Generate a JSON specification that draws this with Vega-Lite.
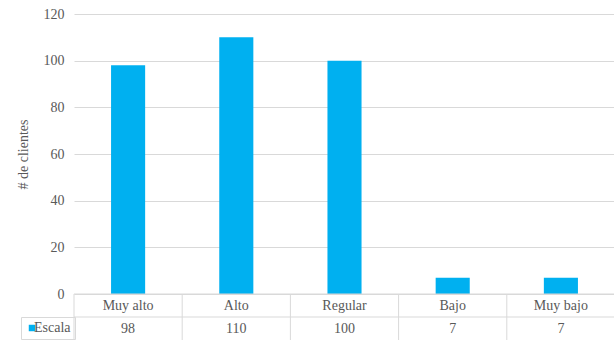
{
  "$schema": "https://vega.github.io/schema/vega-lite/v6.json",
  "padding": {"left": 16, "top": 7, "right": 0, "bottom": 0},
  "background": "white",
  "spacing": 0,
  "bounds": "flush",
  "config": {
    "font": "Liberation Serif",
    "view": {"stroke": null},
    "axis": {"labelFont": "Liberation Serif", "titleFont": "Liberation Serif"},
    "legend": {"labelFont": "Liberation Serif"},
    "text": {"font": "Liberation Serif"}
  },
  "data": {
    "values": [
      {"categoria": "Muy alto", "Escala": 98},
      {"categoria": "Alto", "Escala": 110},
      {"categoria": "Regular", "Escala": 100},
      {"categoria": "Bajo", "Escala": 7},
      {"categoria": "Muy bajo", "Escala": 7}
    ]
  },
  "vconcat": [
    {
      "width": 541,
      "height": 280,
      "mark": {"type": "bar", "color": "#00B0F0"},
      "encoding": {
        "x": {
          "field": "categoria",
          "type": "nominal",
          "sort": null,
          "scale": {"paddingInner": 0.685, "paddingOuter": 0.3425},
          "axis": null
        },
        "y": {
          "field": "Escala",
          "type": "quantitative",
          "scale": {"domain": [0, 120], "nice": false},
          "axis": {
            "values": [0, 20, 40, 60, 80, 100, 120],
            "title": "# de clientes",
            "titleFontSize": 14,
            "titleFontWeight": "normal",
            "titleColor": "#595959",
            "titlePadding": 13,
            "labelFontSize": 14,
            "labelColor": "#595959",
            "labelPadding": 10,
            "ticks": false,
            "domain": false,
            "grid": true,
            "gridColor": "#d9d9d9",
            "gridWidth": 1
          }
        },
        "color": {
          "datum": "Escala",
          "type": "nominal",
          "scale": {"range": ["#00B0F0"]},
          "legend": {
            "orient": "none",
            "legendX": -53,
            "legendY": 303,
            "title": null,
            "symbolType": "square",
            "symbolSize": 42,
            "symbolStrokeWidth": 0,
            "labelFontSize": 14,
            "labelColor": "#595959",
            "labelOffset": -5,
            "padding": 4,
            "strokeColor": "#d9d9d9"
          }
        }
      }
    },
    {
      "width": 541,
      "height": 46,
      "layer": [
        {
          "mark": {"type": "text", "fontSize": 14, "color": "#595959"},
          "encoding": {
            "x": {
              "field": "categoria",
              "type": "nominal",
              "sort": null,
              "scale": {"paddingInner": 0, "paddingOuter": 0},
              "axis": null
            },
            "y": {
              "datum": "categoria",
              "type": "nominal",
              "scale": {"domain": ["categoria", "Escala"], "paddingInner": 0, "paddingOuter": 0},
              "axis": null
            },
            "text": {"field": "categoria", "type": "nominal"}
          }
        },
        {
          "mark": {"type": "text", "fontSize": 14, "color": "#595959"},
          "encoding": {
            "x": {"field": "categoria", "type": "nominal", "sort": null},
            "y": {"datum": "Escala", "type": "nominal"},
            "text": {"field": "Escala", "type": "nominal"}
          }
        },
        {
          "mark": {"type": "rule", "color": "#d9d9d9", "strokeWidth": 1},
          "encoding": {
            "x": {"field": "categoria", "type": "nominal", "sort": null, "bandPosition": 0}
          }
        },
        {
          "transform": [{"filter": "datum.categoria == 'Muy bajo'"}],
          "mark": {"type": "rule", "color": "#d9d9d9", "strokeWidth": 1},
          "encoding": {
            "x": {"field": "categoria", "type": "nominal", "sort": null, "bandPosition": 1}
          }
        },
        {
          "transform": [{"filter": "datum.categoria == 'Muy alto'"}],
          "mark": {"type": "rule", "color": "#d9d9d9", "strokeWidth": 1},
          "encoding": {
            "y": {"datum": "categoria", "type": "nominal", "bandPosition": 0}
          }
        },
        {
          "transform": [{"filter": "datum.categoria == 'Muy alto'"}],
          "mark": {"type": "rule", "color": "#d9d9d9", "strokeWidth": 1},
          "encoding": {
            "y": {"datum": "Escala", "type": "nominal", "bandPosition": 0}
          }
        }
      ]
    }
  ]
}
